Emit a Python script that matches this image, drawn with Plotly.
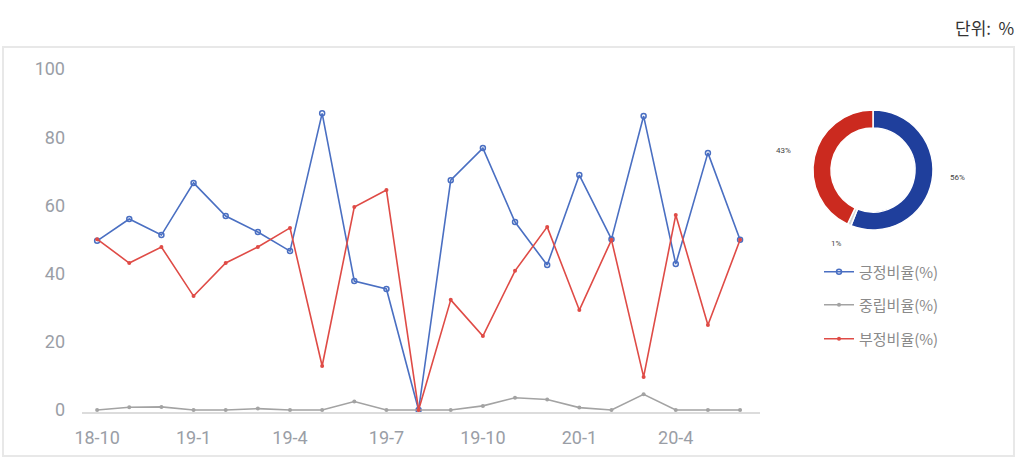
import plotly.graph_objects as go

months = ["18-10","18-11","18-12","19-1","19-2","19-3","19-4","19-5","19-6","19-7","19-8",
          "19-9","19-10","19-11","19-12","20-1","20-2","20-3","20-4","20-5","20-6"]
positive = [49.6,56.0,51.3,66.6,56.9,52.2,46.6,87.0,37.8,35.5,0.0,67.4,76.8,55.1,42.5,68.9,50.1,86.2,42.8,75.4,49.9]
neutral  = [0.0,0.8,0.9,0.0,0.0,0.4,0.0,0.0,2.5,0.0,0.0,0.0,1.2,3.6,3.1,0.7,0.0,4.6,0.0,0.0,0.0]
negative = [50.1,43.1,47.8,33.4,43.1,47.8,53.4,12.9,59.5,64.5,0.0,32.3,21.7,40.8,53.7,29.3,49.9,9.7,57.2,24.9,49.9]
tick_labels = ["18-10","19-1","19-4","19-7","19-10","20-1","20-4"]
series_names = ["긍정비율(%)", "중립비율(%)", "부정비율(%)"]
donut_values = [56, 1, 43]  # 긍정, 중립, 부정

W, H = 1029, 459
ML, MR, MT, MB = 82, 10, 69, 47
PW, PH = W - ML - MR, H - MT - MB

def px(x):
    return (x - ML) / PW

def py(y):
    return (H - MB - y) / PH

idx = list(range(len(months)))
tickvals = [months.index(t) for t in tick_labels]

fig = go.Figure()

line_colors = ["#4a6fc2", "#a3a3a3", "#df4b46"]
legends = ["legend", "legend2", "legend3"]
series = [positive, neutral, negative]
markers = [
    dict(symbol="circle-open", size=5, color="#4a6fc2", line=dict(width=1.5, color="#4a6fc2")),
    dict(symbol="circle", size=4, color="#a3a3a3"),
    dict(symbol="circle", size=4, color="#df4b46"),
]
for name, vals, col, mk, lg in zip(series_names, series, line_colors, markers, legends):
    fig.add_trace(go.Scatter(
        x=idx, y=vals, name=name, mode="lines+markers",
        line=dict(color=col, width=1.6), marker=mk, legend=lg,
        cliponaxis=False,
    ))

fig.add_trace(go.Pie(
    values=donut_values, labels=series_names, sort=False, direction="clockwise",
    rotation=0, hole=0.7, showlegend=False, textinfo="none",
    marker=dict(colors=["#1f3f9c", "#d6d6d6", "#cb2a1f"], line=dict(color="white", width=1.5)),
    domain=dict(x=[px(813), px(933)], y=[py(230), py(110)]),
))

total = sum(donut_values)
pie_label_pos = [(957, 177), (836, 243), (783, 150)]
annotations = []
for v, (ax_, ay_) in zip(donut_values, pie_label_pos):
    annotations.append(dict(
        x=px(ax_), y=py(ay_), xref="paper", yref="paper", showarrow=False,
        text=f"{round(v / total * 100)}%", font=dict(size=8, color="#444", family="Roboto"),
        xanchor="center", yanchor="middle"))
annotations.append(dict(
    x=px(1016), y=py(27), xref="paper", yref="paper", showarrow=False,
    text="단위:  %", font=dict(size=17, color="#333", family="Noto Sans CJK KR"),
    xanchor="right", yanchor="middle"))

legend_common = dict(xanchor="left", yanchor="middle", bgcolor="rgba(0,0,0,0)",
                     font=dict(size=15, color="#8a8a8a", family="Noto Sans CJK KR"))

fig.update_layout(
    width=W, height=H,
    margin=dict(l=ML, r=MR, t=MT, b=MB, pad=0),
    paper_bgcolor="white", plot_bgcolor="white",
    legend=dict(x=px(819), y=py(272), **legend_common),
    legend2=dict(x=px(819), y=py(305), **legend_common),
    legend3=dict(x=px(819), y=py(339), **legend_common),
    annotations=annotations,
    shapes=[dict(type="rect", xref="paper", yref="paper",
                 x0=px(3), x1=px(1014), y0=py(456), y1=py(47),
                 line=dict(color="#e8e8e8", width=2), fillcolor="rgba(0,0,0,0)", layer="below")],
    xaxis=dict(domain=[0, px(760)], range=[-0.47, 20.62], tickvals=tickvals, ticktext=tick_labels,
               showgrid=False, zeroline=False, showline=True, linecolor="#dcdcdc", linewidth=1.5,
               ticks="", ticklabelstandoff=9,
               tickfont=dict(size=18, color="#9a9ea6", family="Roboto")),
    yaxis=dict(range=[-0.59, 100], tickvals=[0, 20, 40, 60, 80, 100], showgrid=False,
               zeroline=False, showline=False, ticks="", ticklabelstandoff=16,
               tickfont=dict(size=18, color="#9a9ea6", family="Roboto")),
)

fig.write_html("out.html")
